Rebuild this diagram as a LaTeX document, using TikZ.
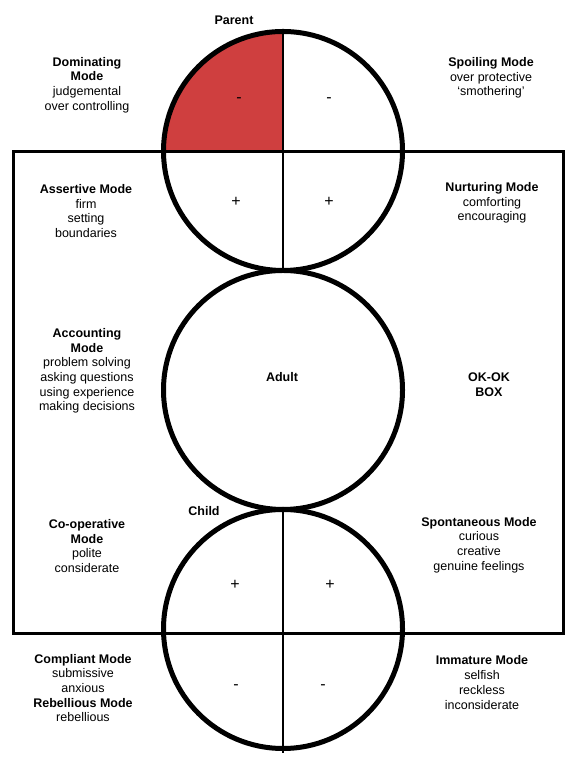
\documentclass[tikz,border=0pt]{standalone}
\usepackage{fontspec}
\setmainfont{Liberation Sans}
\definecolor{domred}{RGB}{207,63,63}
\begin{document}
\begin{tikzpicture}[x=1pt,y=1pt,
	ring/.style={circle,draw,line width=5pt,minimum size=239pt,inner sep=0pt},
	modetext/.style={align=center,font=\fontsize{12.5}{14.7}\selectfont},
	sign/.style={font=\fontsize{16}{16}\selectfont}]
			\useasboundingbox (0,0) rectangle (570,762);
			\coordinate (P) at (283,611); %Parent
			\coordinate (A) at (283,372); %Adult
			\coordinate (C) at (283,133); %Child
			\fill[domred] (P) -- ++(-119.5,0) arc[start angle=180,end angle=90,radius=119.5] -- cycle;
			\node[ring] (parent) at (P) {};
			\node[ring] (adult) at (A) {};
			\node[ring] (child) at (C) {};
			\draw[line width=3pt] (13,128) rectangle (563,610); %OK-OK box
			\coordinate (childend) at (283,9);
			\draw[line width=2pt] (parent.north)--(parent.south);
			\draw[line width=2pt] (child.north)--(childend);
			% Parent
			\node[modetext] (parentlbl) at (234,742) {\textbf{Parent}};
			\node[sign] (pm1) at (239,662) {-};
			\node[sign] (pm2) at (329,662) {-};
			\node[sign] (pp1) at (236,560) {+};
			\node[sign] (pp2) at (329,560) {+};
			\node[modetext] (dominating) at (87,677) {\textbf{Dominating}\\\textbf{Mode}\\judgemental\\over controlling};
			\node[modetext] (spoiling) at (491,684) {\textbf{Spoiling Mode}\\over protective\\‘smothering’};
			\node[modetext] (assertive) at (86,551) {\textbf{Assertive Mode}\\firm\\setting\\boundaries};
			\node[modetext] (nurturing) at (492,559) {\textbf{Nurturing Mode}\\comforting\\encouraging};
			% Adult
			\node[modetext] (adultlbl) at (282,385) {\textbf{Adult}};
			\node[modetext] (accounting) at (87,391) {\textbf{Accounting}\\\textbf{Mode}\\problem solving\\asking questions\\using experience\\making decisions};
			\node[modetext] (okbox) at (489,377.5) {\textbf{OK-OK}\\\textbf{BOX}};
			% Child
			\node[modetext] (childlbl) at (204,251) {\textbf{Child}};
			\node[sign] (cp1) at (235,177) {+};
			\node[sign] (cp2) at (330,177) {+};
			\node[sign] (cm1) at (236,75) {-};
			\node[sign] (cm2) at (323,75) {-};
			\node[modetext] (cooperative) at (87,216) {\textbf{Co-operative}\\\textbf{Mode}\\polite\\considerate};
			\node[modetext] (spontaneous) at (479,217) {\textbf{Spontaneous Mode}\\curious\\creative\\genuine feelings};
			\node[modetext] (compliant) at (83,74) {\textbf{Compliant Mode}\\submissive\\anxious\\\textbf{Rebellious Mode}\\rebellious};
			\node[modetext] (immature) at (482,79.5) {\textbf{Immature Mode}\\selfish\\reckless\\inconsiderate};
		\end{tikzpicture}
\end{document}
